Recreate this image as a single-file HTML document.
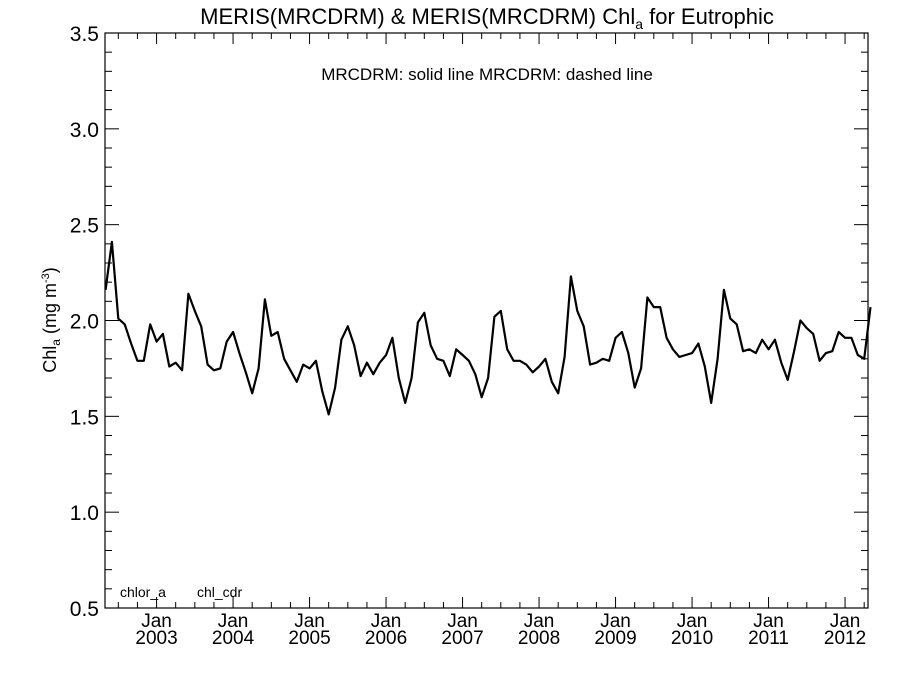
<!DOCTYPE html>
<html><head><meta charset="utf-8"><style>
body{margin:0;background:#fff;}
svg{display:block;font-family:"Liberation Sans",sans-serif;}
</style></head><body>
<svg id="chart" width="900" height="675" viewBox="0 0 900 675">
<rect width="900" height="675" fill="#fff"/>
<text x="487" y="24" font-size="22" text-anchor="middle">MERIS(MRCDRM) &amp; MERIS(MRCDRM)  Chl<tspan font-size="14" dy="5">a</tspan><tspan dy="-5"> for Eutrophic</tspan></text>
<text x="487" y="80" font-size="17" text-anchor="middle">MRCDRM: solid line   MRCDRM: dashed line</text>
<text transform="translate(56,320) rotate(-90)" font-size="18" text-anchor="middle">Chl<tspan font-size="12" dy="4">a</tspan><tspan dy="-4"> (mg m</tspan><tspan font-size="11" dy="-7">-3</tspan><tspan dy="7">)</tspan></text>
<text x="120" y="597" font-size="14">chlor_a</text>
<text x="197" y="597" font-size="14">chl_cdr</text>
<g id="axes"></g>
<path id="series" fill="none" stroke="#000" stroke-width="2.2" stroke-linejoin="round"/>
</svg>
<script>
const startYear = 2002, startMonth = 4; // May 2002
const chlValues = [2.16,2.41,2.01,1.98,1.88,1.79,1.79,1.98,1.89,1.93,1.76,1.78,1.74,2.14,2.05,1.97,1.77,1.74,1.75,1.89,1.94,1.83,1.73,1.62,1.75,2.11,1.92,1.94,1.80,1.74,1.68,1.77,1.75,1.79,1.63,1.51,1.65,1.90,1.97,1.87,1.71,1.78,1.72,1.78,1.82,1.91,1.70,1.57,1.70,1.99,2.04,1.87,1.80,1.79,1.71,1.85,1.82,1.79,1.72,1.60,1.70,2.02,2.05,1.85,1.79,1.79,1.77,1.73,1.76,1.80,1.68,1.62,1.81,2.23,2.05,1.97,1.77,1.78,1.80,1.79,1.91,1.94,1.83,1.65,1.75,2.12,2.07,2.07,1.91,1.85,1.81,1.82,1.83,1.88,1.76,1.57,1.80,2.16,2.01,1.98,1.84,1.85,1.83,1.90,1.85,1.90,1.78,1.69,1.84,2.00,1.96,1.93,1.79,1.83,1.84,1.94,1.91,1.91,1.82,1.80,2.07];
const yTickLabels = ["0.5","1.0","1.5","2.0","2.5","3.0","3.5"];
const xYearLabels = [2003,2004,2005,2006,2007,2008,2009,2010,2011,2012];
const L=105,R=868,T=33,B=608;
const t0=2002.326,t1=2012.30,v0=0.5,v1=3.5;
const xS=t=>L+(t-t0)/(t1-t0)*(R-L);
const yS=v=>B-(v-v0)/(v1-v0)*(B-T);
const NS="http://www.w3.org/2000/svg";
const g=document.getElementById('axes');
function mk(tag,attrs){const e=document.createElementNS(NS,tag);for(const k in attrs)e.setAttribute(k,attrs[k]);g.appendChild(e);return e;}
const frame=mk('rect',{x:L,y:T,width:R-L,height:B-T,fill:'none',stroke:'#000','stroke-width':1.2});


for(let v=0.5;v<=3.5001;v+=0.1){
  const maj=Math.abs(v*2-Math.round(v*2))<1e-6;const len=maj?14:7;const y=yS(v);
  const a=mk('line',{x1:L,x2:L+len,y1:y,y2:y,stroke:'#000','stroke-width':1});
  
  
  const b=mk('line',{x1:R,x2:R-len,y1:y,y2:y,stroke:'#000','stroke-width':1});
  
  
}
yTickLabels.forEach(s=>{
  const t=mk('text',{x:L-6,y:yS(parseFloat(s))+8,'font-size':21,'text-anchor':'end'});t.textContent=s;
  
  
});
for(let q=2002.5;q<=2012.3;q+=0.25){
  const x=xS(q);if(x<L+1||x>R-1)continue;
  const maj=Math.abs(q-Math.round(q))<1e-6;const len=maj?11:6;
  const a=mk('line',{x1:x,x2:x,y1:B,y2:B-len,stroke:'#000','stroke-width':1});
  
  
  const b=mk('line',{x1:x,x2:x,y1:T,y2:T+len,stroke:'#000','stroke-width':1});
  
  
}
xYearLabels.forEach(yr=>{
  const x=xS(yr);
  const a=mk('text',{x:x,y:627,'font-size':19,'text-anchor':'middle'});a.textContent='Jan';
  
  
  const b=mk('text',{x:x,y:644,'font-size':19,'text-anchor':'middle'});b.textContent=String(yr);
  
  
});
let d='';
chlValues.forEach((v,i)=>{const t=startYear+(startMonth+i)/12;d+=(i?'L':'M')+xS(t).toFixed(1)+' '+yS(v).toFixed(1);});
document.getElementById('series').setAttribute('d',d);
</script>
</body></html>
